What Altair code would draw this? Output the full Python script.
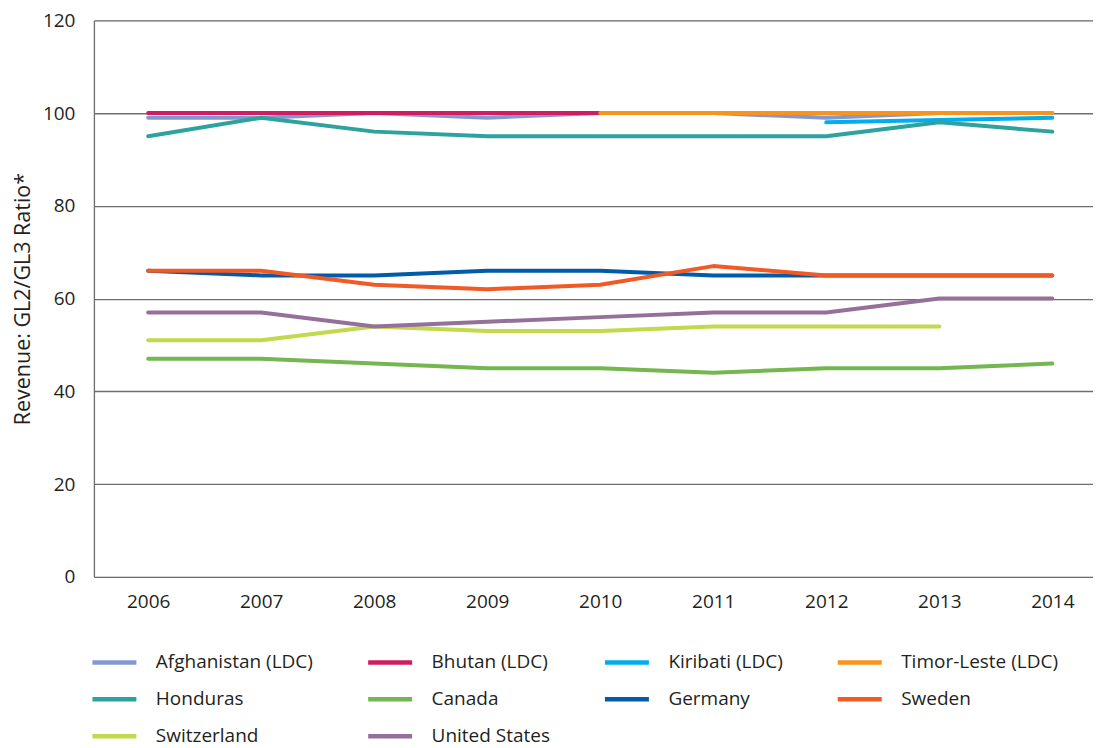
import altair as alt
import pandas as pd

years = [2006, 2007, 2008, 2009, 2010, 2011, 2012, 2013, 2014]

countries = ["Afghanistan (LDC)", "Bhutan (LDC)", "Kiribati (LDC)", "Timor-Leste (LDC)",
             "Honduras", "Canada", "Germany", "Sweden", "Switzerland", "United States"]
colors = ["#8497cf", "#d01c62", "#00aeef", "#f7941d", "#2ea39e",
          "#74b650", "#005ba8", "#f15a24", "#c3d84a", "#957098"]

afghanistan = [99, 99, 100, 99, 100, 100, 99, 100, 100]
bhutan_years = [2006, 2007, 2008, 2009, 2010]
bhutan = [100, 100, 100, 100, 100]
kiribati_years = [2012, 2013, 2014]
kiribati = [98, 98.5, 99]
timor_years = [2010, 2011, 2012, 2013, 2014]
timor = [100, 100, 100, 100, 100]
honduras = [95, 99, 96, 95, 95, 95, 95, 98, 96]
canada = [47, 47, 46, 45, 45, 44, 45, 45, 46]
germany = [66, 65, 65, 66, 66, 65, 65, 65, 65]
sweden = [66, 66, 63, 62, 63, 67, 65, 65, 65]
switzerland_years = [2006, 2007, 2008, 2009, 2010, 2011, 2012, 2013]
switzerland = [51, 51, 54, 53, 53, 54, 54, 54]
united_states = [57, 57, 54, 55, 56, 57, 57, 60, 60]

series = [
    ("Afghanistan (LDC)", years, afghanistan),
    ("Bhutan (LDC)", bhutan_years, bhutan),
    ("Kiribati (LDC)", kiribati_years, kiribati),
    ("Timor-Leste (LDC)", timor_years, timor),
    ("Honduras", years, honduras),
    ("Canada", years, canada),
    ("Germany", years, germany),
    ("Sweden", years, sweden),
    ("Switzerland", switzerland_years, switzerland),
    ("United States", years, united_states),
]

rows = []
for i, (name, ys, vals) in enumerate(series):
    for y, v in zip(ys, vals):
        rows.append({"Country": name, "Year": y, "Value": v, "idx": i})
df = pd.DataFrame(rows)

FONT = "Open Sans"
TXT = "#231f20"

chart = alt.Chart(df).mark_line(strokeWidth=4, strokeCap="round", strokeJoin="round").encode(
    x=alt.X("Year:Q",
            scale=alt.Scale(domain=[2005.52, 2014.36], nice=False, zero=False),
            axis=alt.Axis(values=years, format="d", title=None, grid=False, ticks=False,
                          domain=False, labelPadding=16, labelFontSize=19,
                          labelFont=FONT, labelColor=TXT)),
    y=alt.Y("Value:Q",
            scale=alt.Scale(domain=[0, 120], nice=False),
            axis=alt.Axis(values=[0, 20, 40, 60, 80, 100, 120], title="Revenue: GL2/GL3 Ratio*",
                          ticks=False, domain=True, domainColor="#6d6e71", domainWidth=1.3,
                          grid=True, gridColor="#6d6e71", gridWidth=1.3,
                          labelPadding=19, labelFontSize=19, labelFont=FONT, labelColor=TXT,
                          titleFont=FONT, titleFontSize=21.5, titleFontWeight="normal",
                          titleColor=TXT, titlePadding=8)),
    color=alt.Color("Country:N",
                    scale=alt.Scale(domain=countries, range=colors),
                    legend=alt.Legend(orient="none", legendX=-4, legendY=618,
                                      direction="horizontal", columns=4, title=None,
                                      symbolType="stroke", symbolSize=1936, symbolStrokeWidth=4.5,
                                      labelFont=FONT, labelFontSize=19, labelColor=TXT,
                                      labelOffset=17, columnPadding=45, rowPadding=2,
                                      labelLimit=300)),
    order=alt.Order("idx:Q"),
).properties(
    width=1000, height=557,
    autosize=alt.AutoSizeParams(type="none"),
    padding={"left": 86, "top": 12, "right": 0, "bottom": 170},
).configure_view(stroke=None).configure(background="white")

chart.save("out.html", embed_options={"renderer": "svg", "actions": False})
